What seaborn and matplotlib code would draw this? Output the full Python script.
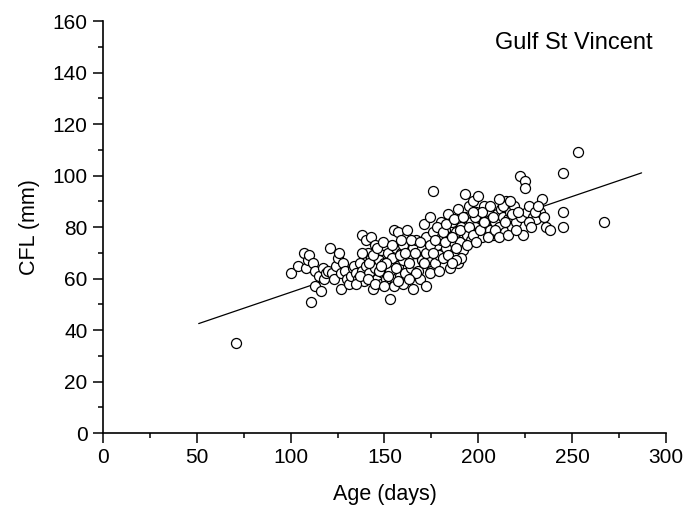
import numpy as np
import pandas as pd
import matplotlib
matplotlib.use("Agg")
import matplotlib.pyplot as plt
import seaborn as sns
from matplotlib.ticker import MultipleLocator

age = [71, 100, 104, 107, 108, 109, 110,
       111, 112, 113, 113, 115, 116, 117, 118, 119, 120,
       121, 122, 123, 124, 125, 126, 127, 127, 128, 129,
       130, 131, 132, 133, 134, 135, 136, 137, 138, 138, 139, 140,
       140, 141, 142, 143, 143, 144, 145, 145, 146, 147, 148, 148, 149, 150, 150,
       151, 152, 153, 153, 154, 155, 155, 156, 157, 157, 158, 159, 160, 160,
       161, 162, 163, 164, 165, 165, 166, 167, 168, 168, 169, 170, 170,
       171, 172, 172, 173, 174, 175, 175, 176, 176, 177, 178, 179, 180, 180,
       181, 182, 183, 184, 185, 185, 186, 187, 188, 189, 189, 190,
       191, 192, 193, 193, 194, 195, 196, 196, 197, 198, 199, 200, 200,
       201, 202, 203, 204, 205, 206, 207, 208, 209, 210,
       211, 212, 213, 214, 215, 216, 217, 218, 219,
       220, 222, 223, 224, 225, 225, 226, 227, 229,
       231, 233, 234, 236, 238,
       245, 245, 245, 253, 267,
       135, 137, 142, 144, 146, 147, 149, 151, 152, 154, 156, 158, 159,
       161, 163, 164, 166, 167, 169, 171, 172, 174, 174, 176, 177, 178,
       179, 181, 182, 183, 184, 186, 187, 188, 190, 191, 192, 194, 195,
       197, 198, 199, 201, 202, 203, 205, 206, 208, 209, 211, 213, 214,
       216, 218, 220, 221, 227, 230, 232, 235, 228, 217, 211, 197, 188,
       186, 160, 163, 148, 138, 141, 145, 150, 157]
cfl = [35, 62, 65, 70, 64, 67, 69,
       51, 66, 63, 57, 61, 55, 64, 60, 62, 63,
       72, 62, 60, 65, 68, 70, 56, 62, 66, 63,
       60, 58, 61, 64, 65, 62, 60, 66, 77, 63, 59, 65,
       75, 70, 62, 76, 68, 56, 73, 64, 60, 67, 71, 58, 62, 73, 66,
       60, 70, 52, 63, 68, 79, 57, 72, 78, 65, 61, 70, 67, 73,
       62, 79, 69, 64, 72, 56, 66, 75, 63, 70, 60, 72, 67,
       81, 76, 57, 68, 84, 63, 72, 94, 78, 66, 73, 69, 82, 75,
       68, 79, 72, 85, 76, 64, 82, 70, 78, 66, 87, 74,
       80, 71, 93, 84, 77, 88, 82, 75, 90, 80, 86, 78, 92,
       84, 76, 88, 81, 86, 79, 83, 77, 82, 85,
       80, 87, 84, 78, 90, 83, 86, 80, 88,
       82, 100, 84, 77, 98, 95, 86, 88, 84,
       83, 86, 91, 80, 79,
       101, 86, 80, 109, 82,
       58, 61, 66, 69, 72, 63, 74, 66, 61, 73, 64, 69, 75,
       70, 66, 75, 70, 62, 74, 66, 70, 73, 62, 70, 75, 80,
       63, 78, 74, 81, 69, 76, 83, 72, 79, 68, 84, 73, 80,
       77, 84, 74, 79, 86, 82, 76, 88, 84, 79, 76, 88, 82,
       77, 85, 79, 86, 82, 86, 88, 84, 80, 90, 91, 86, 67,
       66, 58, 60, 65, 70, 60, 58, 57, 59]

line_age = [51, 287]
slope, intercept = 0.248, 29.85

df = pd.DataFrame({"Age": age, "CFL": cfl})
line_df = pd.DataFrame({"Age": line_age,
                        "CFL": [intercept + slope * a for a in line_age]})

sns.set_style("ticks")
plt.rcParams["font.family"] = ["Liberation Sans", "DejaVu Sans"]
plt.rcParams["text.color"] = "black"
plt.rcParams["axes.labelcolor"] = "black"
plt.rcParams["xtick.color"] = "black"
plt.rcParams["ytick.color"] = "black"
plt.rcParams["axes.edgecolor"] = "black"

fig = plt.figure(figsize=(6.88, 5.15), dpi=100)
ax = fig.add_axes([0.1497, 0.1592, 0.8183, 0.8000])

sns.lineplot(data=line_df, x="Age", y="CFL", ax=ax, color="black", linewidth=0.9)
sns.scatterplot(data=df, x="Age", y="CFL", ax=ax, s=52, facecolor="white",
                edgecolor="black", linewidth=0.9, zorder=3)

ax.set_xlim(0, 300)
ax.set_ylim(0, 160)
ax.xaxis.set_major_locator(MultipleLocator(50))
ax.xaxis.set_minor_locator(MultipleLocator(25))
ax.yaxis.set_major_locator(MultipleLocator(20))
ax.yaxis.set_minor_locator(MultipleLocator(10))
ax.tick_params(which="major", direction="out", length=7, width=1.1, labelsize=15,
               color="black", labelcolor="black", pad=4)
ax.tick_params(which="minor", direction="out", length=3.5, width=1.1, color="black")
for s in ["top", "right"]:
    ax.spines[s].set_visible(False)
for s in ["left", "bottom"]:
    ax.spines[s].set_linewidth(1.2)
    ax.spines[s].set_color("black")
ax.set_xlabel("Age (days)", fontsize=15.5, labelpad=12)
ax.set_ylabel("CFL (mm)", fontsize=15.5, labelpad=9)
ax.text(251, 151.5, "Gulf St Vincent", fontsize=17, ha="center", va="center")

fig.savefig("out.png", dpi=100)
